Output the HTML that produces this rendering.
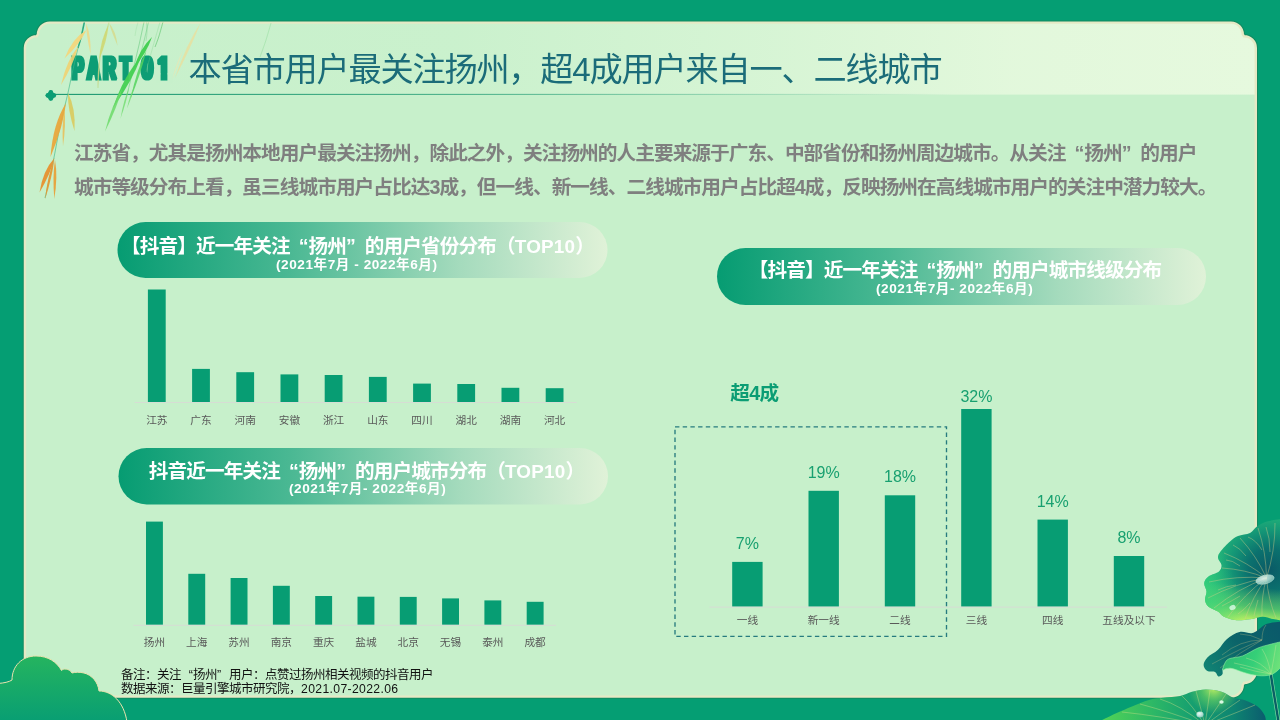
<!DOCTYPE html>
<html lang="zh-CN">
<head>
<meta charset="utf-8">
<title>本省市用户最关注扬州，超4成用户来自一、二线城市</title>
<style>
html,body{margin:0;padding:0;}
body{width:1280px;height:720px;overflow:hidden;position:relative;background:#059e73;
  font-family:"Liberation Sans","Noto Sans CJK SC",sans-serif;}
#art{position:absolute;left:0;top:0;}
.t{position:absolute;white-space:nowrap;line-height:1;margin:0;}
.q{display:inline-block;width:1em;letter-spacing:0;}
.pt .q{width:18.75px}.body .q{width:18.72px}.note .q{width:12px}
.ql{text-align:right;}
.qr{text-align:left;}
#title{left:188.5px;top:52.5px;font-size:33.2px;letter-spacing:-1.2px;color:#1b6c79;font-weight:400;}
.body{left:74px;font-size:19.7px;letter-spacing:-.98px;font-weight:700;color:#7f7f7f;}
.pt{font-size:19.6px;letter-spacing:-.85px;font-weight:700;color:#fff;}
.pt b{letter-spacing:.2px;font-size:18.9px;}
.ps{font-size:13.6px;letter-spacing:.55px;font-weight:700;color:#fff;}
.xl{font-size:10.67px;color:#595959;text-align:center;transform:translateX(-50%);}
.dl{font-size:16px;color:#18a070;text-align:center;transform:translateX(-50%);}
#over4{left:730.3px;top:384.3px;font-size:19.6px;letter-spacing:-.6px;font-weight:700;color:#0b9d74;}
.note{left:121px;font-size:12.5px;letter-spacing:-.5px;color:#111;}
.note i{font-style:normal;letter-spacing:.35px;font-size:12.2px}
</style>
</head>
<body>
<svg id="art" width="1280" height="720" viewBox="0 0 1280 720">
<defs>
  <linearGradient id="hdr" x1="0" x2="1" y1="0" y2="0">
    <stop offset="0" stop-color="#e6f9de" stop-opacity="0"/>
    <stop offset=".35" stop-color="#e6f9de" stop-opacity=".1"/>
    <stop offset=".6" stop-color="#e6f9de" stop-opacity=".5"/>
    <stop offset=".8" stop-color="#e6f9de" stop-opacity=".88"/>
    <stop offset="1" stop-color="#e6f9de" stop-opacity="1"/>
  </linearGradient>
  <linearGradient id="hline" x1="0" x2="1" y1="0" y2="0">
    <stop offset="0" stop-color="#1f9a73" stop-opacity="1"/>
    <stop offset=".45" stop-color="#1f9a73" stop-opacity=".7"/>
    <stop offset="1" stop-color="#1f9a73" stop-opacity="0"/>
  </linearGradient>
  <linearGradient id="pill" x1="0" x2="1" y1="0" y2="0">
    <stop offset="0" stop-color="#069c72"/>
    <stop offset=".35" stop-color="#4ab893"/>
    <stop offset=".7" stop-color="#a5dbbd"/>
    <stop offset="1" stop-color="#e0f2d8"/>
  </linearGradient>
  <linearGradient id="cloud" x1="0" x2="0" y1="0" y2="1">
    <stop offset="0" stop-color="#25b45f"/>
    <stop offset="1" stop-color="#089e73"/>
  </linearGradient>
<!--ARTDEFS-->
  <radialGradient id="lg_big" gradientUnits="userSpaceOnUse" cx="1270" cy="570" r="68">
    <stop offset="0" stop-color="#0a5a66"/><stop offset=".32" stop-color="#0b716e"/><stop offset=".58" stop-color="#149676"/><stop offset=".82" stop-color="#22b479"/><stop offset="1" stop-color="#2cc57b"/>
  </radialGradient>
  <linearGradient id="lg_big2" gradientUnits="userSpaceOnUse" x1="1240" y1="585" x2="1236" y2="621">
    <stop offset="0" stop-color="#b8f25c" stop-opacity="0"/><stop offset=".55" stop-color="#8fe860" stop-opacity=".45"/><stop offset="1" stop-color="#d4f760" stop-opacity="1"/>
  </linearGradient>
  <linearGradient id="lg_big3" gradientUnits="userSpaceOnUse" x1="1204" y1="590" x2="1235" y2="580">
    <stop offset="0" stop-color="#35d17c" stop-opacity=".7"/><stop offset="1" stop-color="#35d17c" stop-opacity="0"/>
  </linearGradient>
  <radialGradient id="drop" cx=".4" cy=".35" r=".7">
    <stop offset="0" stop-color="#f4fffb"/><stop offset=".55" stop-color="#bfe6dc"/><stop offset="1" stop-color="#7fc4b8"/>
  </radialGradient>
  <linearGradient id="lg_midb" gradientUnits="userSpaceOnUse" x1="1205" y1="670" x2="1275" y2="625">
    <stop offset="0" stop-color="#118474"/><stop offset=".5" stop-color="#0b6469"/><stop offset="1" stop-color="#0a5a6a"/>
  </linearGradient>
  <linearGradient id="lg_midf" gradientUnits="userSpaceOnUse" x1="1228" y1="655" x2="1278" y2="672">
    <stop offset="0" stop-color="#2fbf74"/><stop offset=".5" stop-color="#35cf78"/><stop offset="1" stop-color="#6fe27a"/>
  </linearGradient>
  <linearGradient id="lg_bot" gradientUnits="userSpaceOnUse" x1="1105" y1="715" x2="1265" y2="712">
    <stop offset="0" stop-color="#4fd157"/><stop offset=".3" stop-color="#2db866"/><stop offset=".55" stop-color="#169f70"/><stop offset=".8" stop-color="#0e8571"/><stop offset="1" stop-color="#0b5d6e"/>
  </linearGradient>
  <radialGradient id="lg_bot2" gradientUnits="userSpaceOnUse" cx="1214" cy="688" r="26">
    <stop offset="0" stop-color="#c9f462" stop-opacity=".95"/><stop offset=".5" stop-color="#7fe25e" stop-opacity=".5"/><stop offset="1" stop-color="#7fe25e" stop-opacity="0"/>
  </radialGradient>
<!--/ARTDEFS-->
  <filter id="fat" x="-5%" y="-20%" width="110%" height="140%"><feMorphology operator="dilate" radius="1 0"/></filter>
  <clipPath id="panelclip"><path d="M24.95,48 A11.8,11.8 0 0 1 36.75,36.2 L37.95,34.4 A11.8,11.8 0 0 1 49.75,22.6 L1231,22.6 A11.8,11.8 0 0 1 1242.8,34.4 L1244,36.2 A11.8,11.8 0 0 1 1255.8,48 L1255.8,671.2 A11.8,11.8 0 0 1 1244,683 L1242.8,684.8 A11.8,11.8 0 0 1 1231,696.6 L49.75,696.6 A11.8,11.8 0 0 1 37.95,684.8 L36.75,683 A11.8,11.8 0 0 1 24.95,671.2 Z"/></clipPath>
</defs>
<!-- panel -->
<path d="M24.95,48 A11.8,11.8 0 0 1 36.75,36.2 L37.95,34.4 A11.8,11.8 0 0 1 49.75,22.6 L1231,22.6 A11.8,11.8 0 0 1 1242.8,34.4 L1244,36.2 A11.8,11.8 0 0 1 1255.8,48 L1255.8,671.2 A11.8,11.8 0 0 1 1244,683 L1242.8,684.8 A11.8,11.8 0 0 1 1231,696.6 L49.75,696.6 A11.8,11.8 0 0 1 37.95,684.8 L36.75,683 A11.8,11.8 0 0 1 24.95,671.2 Z" fill="none" stroke="#1d7a52" stroke-opacity=".55" stroke-width="4.4"/>
<path d="M24.95,48 A11.8,11.8 0 0 1 36.75,36.2 L37.95,34.4 A11.8,11.8 0 0 1 49.75,22.6 L1231,22.6 A11.8,11.8 0 0 1 1242.8,34.4 L1244,36.2 A11.8,11.8 0 0 1 1255.8,48 L1255.8,671.2 A11.8,11.8 0 0 1 1244,683 L1242.8,684.8 A11.8,11.8 0 0 1 1231,696.6 L49.75,696.6 A11.8,11.8 0 0 1 37.95,684.8 L36.75,683 A11.8,11.8 0 0 1 24.95,671.2 Z" fill="#c7f0cb"/>
<g clip-path="url(#panelclip)">
  <rect x="24" y="21" width="1234" height="73.6" fill="url(#hdr)"/>
</g>
<path d="M24.95,48 A11.8,11.8 0 0 1 36.75,36.2 L37.95,34.4 A11.8,11.8 0 0 1 49.75,22.6 L1231,22.6 A11.8,11.8 0 0 1 1242.8,34.4 L1244,36.2 A11.8,11.8 0 0 1 1255.8,48 L1255.8,671.2 A11.8,11.8 0 0 1 1244,683 L1242.8,684.8 A11.8,11.8 0 0 1 1231,696.6 L49.75,696.6 A11.8,11.8 0 0 1 37.95,684.8 L36.75,683 A11.8,11.8 0 0 1 24.95,671.2 Z" fill="none" stroke="#e5e9c5" stroke-width="2.4"/>
<rect x="52" y="93.85" width="900" height="1.15" fill="url(#hline)"/>
<g fill="#0b9d74"><circle cx="50.8" cy="92.4" r="2.4"/><circle cx="50.8" cy="98.4" r="2.4"/><circle cx="47.9" cy="95.4" r="2.4"/><circle cx="53.7" cy="95.4" r="2.4"/><path d="M50.8,90 L56.2,95.4 L50.8,100.8 L45.4,95.4Z"/></g>
<!--PART--><g id="part" filter="url(#fat)" font-family="Liberation Sans, sans-serif" font-weight="700" font-size="32.1" fill="#0b9d74" stroke="#0b9d74" stroke-width="3.0" stroke-linejoin="miter" stroke-miterlimit="2">
<text transform="translate(0,79.2) scale(0.55,1)" x="131.01 158.72 187.56 218.73">PART</text>
<text transform="translate(0,79.2) scale(0.645,1)" x="219.55 244.51">01</text>
</g><path d="M155.5,73.6H160.6V83H155.5Z M167.4,73.6H173V83H167.4Z" fill="#c7f0cb"/><!--/PART-->
<!-- pills -->
<rect x="117.5" y="222" width="490" height="56" rx="28" fill="url(#pill)"/>
<rect x="118.5" y="448" width="489.5" height="56.5" rx="28.2" fill="url(#pill)"/>
<rect x="717" y="248" width="489" height="57" rx="28.5" fill="url(#pill)"/>
<!-- chart1 -->
<g fill="#079d73">
<rect x="147.9" y="289.5" width="17.8" height="112.5"/>
<rect x="192.1" y="368.9" width="17.8" height="33.1"/>
<rect x="236.3" y="372.2" width="17.8" height="29.8"/>
<rect x="280.5" y="374.4" width="17.8" height="27.6"/>
<rect x="324.7" y="375" width="17.8" height="27"/>
<rect x="368.9" y="376.9" width="17.8" height="25.1"/>
<rect x="413.1" y="383.6" width="17.8" height="18.4"/>
<rect x="457.3" y="384" width="17.8" height="18"/>
<rect x="501.5" y="387.8" width="17.8" height="14.2"/>
<rect x="545.7" y="388.2" width="17.8" height="13.8"/>
</g>
<rect x="134.7" y="402" width="442" height="1" fill="#d6ddd4"/>
<!-- chart2 -->
<g fill="#079d73">
<rect x="146" y="521.6" width="16.9" height="103.2"/>
<rect x="188.3" y="573.8" width="16.9" height="51"/>
<rect x="230.6" y="578" width="16.9" height="46.8"/>
<rect x="272.9" y="585.8" width="16.9" height="39"/>
<rect x="315.2" y="596" width="16.9" height="28.8"/>
<rect x="357.5" y="596.7" width="16.9" height="28.1"/>
<rect x="399.8" y="596.9" width="16.9" height="27.9"/>
<rect x="442.1" y="598.4" width="16.9" height="26.4"/>
<rect x="484.4" y="600.4" width="16.9" height="24.4"/>
<rect x="526.7" y="601.8" width="16.9" height="23"/>
</g>
<rect x="133.3" y="624.8" width="422.7" height="1" fill="#d6ddd4"/>
<!-- chart3 -->
<g fill="#079d73">
<rect x="732.2" y="561.9" width="30.4" height="44.8"/>
<rect x="808.5" y="490.8" width="30.4" height="115.9"/>
<rect x="884.8" y="495.3" width="30.4" height="111.4"/>
<rect x="961.2" y="409" width="30.4" height="197.7"/>
<rect x="1037.5" y="519.6" width="30.4" height="87.1"/>
<rect x="1113.8" y="556" width="30.4" height="50.7"/>
</g>
<rect x="709.4" y="606.6" width="457.6" height="1" fill="#d6ddd4"/>
<rect x="675" y="426.8" width="271.5" height="209.6" fill="none" stroke="#277b7f" stroke-width="1.35" stroke-dasharray="4.4 3.3"/>
<!--ARTBODY--><g id="lotus"><path d="M1282.0,519.0 C1279.5,519.4 1271.2,520.2 1267.0,521.5 C1262.8,522.8 1259.8,524.6 1257.0,526.5 C1254.2,528.4 1253.2,531.4 1250.0,533.0 C1246.8,534.6 1241.3,534.6 1238.0,536.0 C1234.7,537.4 1232.9,538.9 1230.0,541.5 C1227.1,544.1 1222.5,548.8 1220.5,551.5 C1218.5,554.2 1217.8,555.8 1218.0,558.0 C1218.2,560.2 1221.3,562.8 1221.5,565.0 C1221.7,567.2 1221.2,569.6 1219.0,571.5 C1216.8,573.4 1211.0,574.6 1208.5,576.5 C1206.0,578.4 1204.5,580.5 1204.2,583.0 C1203.9,585.5 1206.4,588.7 1206.5,591.5 C1206.6,594.3 1204.7,597.5 1205.0,600.0 C1205.3,602.5 1206.3,604.8 1208.5,606.7 C1210.7,608.6 1215.5,609.9 1218.0,611.5 C1220.5,613.1 1220.7,615.1 1223.5,616.5 C1226.3,617.9 1230.6,619.5 1235.0,620.0 C1239.4,620.5 1245.3,619.8 1250.0,619.2 C1254.7,618.7 1259.2,616.7 1263.0,616.7 C1266.8,616.7 1269.8,618.4 1273.0,619.0 C1276.2,619.6 1280.5,620.2 1282.0,620.5 L1282,519Z" fill="url(#lg_big)"/>
<path d="M1282.0,519.0 C1279.5,519.4 1271.2,520.2 1267.0,521.5 C1262.8,522.8 1259.8,524.6 1257.0,526.5 C1254.2,528.4 1253.2,531.4 1250.0,533.0 C1246.8,534.6 1241.3,534.6 1238.0,536.0 C1234.7,537.4 1232.9,538.9 1230.0,541.5 C1227.1,544.1 1222.5,548.8 1220.5,551.5 C1218.5,554.2 1217.8,555.8 1218.0,558.0 C1218.2,560.2 1221.3,562.8 1221.5,565.0 C1221.7,567.2 1221.2,569.6 1219.0,571.5 C1216.8,573.4 1211.0,574.6 1208.5,576.5 C1206.0,578.4 1204.5,580.5 1204.2,583.0 C1203.9,585.5 1206.4,588.7 1206.5,591.5 C1206.6,594.3 1204.7,597.5 1205.0,600.0 C1205.3,602.5 1206.3,604.8 1208.5,606.7 C1210.7,608.6 1215.5,609.9 1218.0,611.5 C1220.5,613.1 1220.7,615.1 1223.5,616.5 C1226.3,617.9 1230.6,619.5 1235.0,620.0 C1239.4,620.5 1245.3,619.8 1250.0,619.2 C1254.7,618.7 1259.2,616.7 1263.0,616.7 C1266.8,616.7 1269.8,618.4 1273.0,619.0 C1276.2,619.6 1280.5,620.2 1282.0,620.5 L1282,519Z" fill="url(#lg_big2)"/>
<path d="M1282.0,519.0 C1279.5,519.4 1271.2,520.2 1267.0,521.5 C1262.8,522.8 1259.8,524.6 1257.0,526.5 C1254.2,528.4 1253.2,531.4 1250.0,533.0 C1246.8,534.6 1241.3,534.6 1238.0,536.0 C1234.7,537.4 1232.9,538.9 1230.0,541.5 C1227.1,544.1 1222.5,548.8 1220.5,551.5 C1218.5,554.2 1217.8,555.8 1218.0,558.0 C1218.2,560.2 1221.3,562.8 1221.5,565.0 C1221.7,567.2 1221.2,569.6 1219.0,571.5 C1216.8,573.4 1211.0,574.6 1208.5,576.5 C1206.0,578.4 1204.5,580.5 1204.2,583.0 C1203.9,585.5 1206.4,588.7 1206.5,591.5 C1206.6,594.3 1204.7,597.5 1205.0,600.0 C1205.3,602.5 1206.3,604.8 1208.5,606.7 C1210.7,608.6 1215.5,609.9 1218.0,611.5 C1220.5,613.1 1220.7,615.1 1223.5,616.5 C1226.3,617.9 1230.6,619.5 1235.0,620.0 C1239.4,620.5 1245.3,619.8 1250.0,619.2 C1254.7,618.7 1259.2,616.7 1263.0,616.7 C1266.8,616.7 1269.8,618.4 1273.0,619.0 C1276.2,619.6 1280.5,620.2 1282.0,620.5 L1282,519Z" fill="url(#lg_big3)"/>
<path d="M1266.5,578 Q1266.2,552.3 1258,528 M1266.5,578 Q1256.5,555.9 1240,538 M1266.5,578 Q1247.2,562.1 1224,553 M1266.5,578 Q1245.0,569.4 1222,568 M1266.5,578 Q1237.4,575.4 1209,582 M1266.5,578 Q1235.7,583.3 1208,598 M1266.5,578 Q1237.8,588.8 1214,608 M1266.5,578 Q1244.1,594.4 1228,617 M1266.5,578 Q1252.5,596.8 1245,619 M1266.5,578 Q1261.2,596.6 1262,616 M1266.5,578 Q1268.0,598.8 1276,618 M1266.5,578 Q1275.2,551.2 1275,523 M1246,556 Q1240,548 1233,545 M1240,566 Q1232,560 1226,560 M1236,585 Q1226,586 1218,590 M1240,596 Q1230,602 1222,606 M1250,603 Q1244,610 1238,614 M1258,600 Q1255,610 1254,616 M1262,550 Q1256,540 1248,537 M1270,552 Q1270,538 1266,527" fill="none" stroke="#d8cf86" stroke-width=".55" opacity=".75"/>
<ellipse cx="1265" cy="579.5" rx="9.3" ry="4.3" transform="rotate(-14 1265 579.5)" fill="url(#drop)" stroke="#e8fff4" stroke-width=".5" opacity=".8"/>
<ellipse cx="1232.5" cy="607.5" rx="3.2" ry="2.5" transform="rotate(-20 1232.5 607.5)" fill="#dcfbe8" opacity=".8"/>
<path d="M1270.5,672 C1273,690 1276,705 1278.5,722" fill="none" stroke="#7fe0a0" stroke-width="3.6"/>
<path d="M1270.5,672 C1273,690 1276,705 1278.5,722" fill="none" stroke="#0a5f66" stroke-width="2.4"/>
<path d="M1282.0,621.5 C1279.5,621.9 1271.0,622.4 1267.0,623.8 C1263.0,625.2 1260.6,628.4 1258.0,630.0 C1255.4,631.6 1254.6,632.9 1251.5,633.2 C1248.4,633.5 1243.6,631.0 1239.5,632.0 C1235.4,633.0 1230.6,636.0 1227.0,639.0 C1223.4,642.0 1221.3,646.7 1218.0,649.8 C1214.7,652.9 1209.8,654.9 1207.4,657.4 C1205.0,659.9 1203.6,662.7 1203.6,665.0 C1203.6,667.3 1205.5,669.8 1207.4,671.0 C1209.3,672.2 1213.2,671.1 1215.0,672.0 C1216.8,672.9 1217.2,676.2 1218.5,676.5 C1219.8,676.8 1221.8,675.4 1222.5,674.0 C1223.2,672.6 1221.8,670.0 1223.0,668.0 C1224.2,666.0 1226.3,663.8 1230.0,662.0 C1233.7,660.2 1239.7,659.0 1245.0,657.0 C1250.3,655.0 1255.8,652.0 1262.0,650.0 C1268.2,648.0 1278.7,645.8 1282.0,645.0 Z" fill="url(#lg_midb)"/>
<path d="M1262,640 Q1240,640 1222,655 M1262,640 Q1245,646 1212,664 M1262,640 Q1250,634 1240,634 M1262,640 Q1262,630 1266,625 M1262,640 Q1240,652 1220,668" fill="none" stroke="#cfc987" stroke-width=".5" opacity=".6"/>
<path d="M1282.0,641.5 C1280.0,642.0 1274.0,643.3 1270.0,644.4 C1266.0,645.5 1262.6,646.1 1258.0,648.0 C1253.4,649.9 1247.3,654.1 1242.6,655.9 C1237.9,657.6 1232.8,657.5 1230.0,658.5 C1227.2,659.5 1226.7,660.1 1225.5,662.0 C1224.3,663.9 1222.5,668.7 1222.7,669.8 C1222.9,670.9 1224.9,668.8 1226.5,668.6 C1228.1,668.4 1229.4,667.9 1232.5,668.6 C1235.6,669.3 1240.8,671.6 1245.0,672.8 C1249.2,674.0 1253.8,675.2 1258.0,675.6 C1262.2,676.0 1266.8,675.8 1270.0,675.0 C1273.2,674.2 1275.0,672.5 1277.0,671.0 C1279.0,669.5 1281.2,666.8 1282.0,666.0 Z" fill="url(#lg_midf)" stroke="#8ff0a0" stroke-width=".6"/>
<path d="M1271,674 Q1262,662 1246,658 M1271,674 Q1258,668 1234,663 M1271,674 Q1268,658 1262,649 M1271,674 Q1274,658 1276,645 M1271,674 Q1256,672 1240,667" fill="none" stroke="#d8e89a" stroke-width=".5" opacity=".7"/>
<path d="M1098.0,722.0 C1101.1,720.5 1111.0,715.6 1116.7,713.0 C1122.4,710.4 1126.6,708.6 1132.0,706.4 C1137.4,704.2 1143.8,701.4 1149.0,700.0 C1154.2,698.6 1157.8,698.5 1163.0,697.8 C1168.2,697.1 1175.2,697.0 1180.0,696.0 C1184.8,695.0 1187.7,692.9 1192.0,691.8 C1196.3,690.7 1201.1,689.5 1206.0,689.5 C1210.9,689.5 1216.9,690.4 1221.5,691.8 C1226.1,693.2 1229.5,696.4 1233.5,697.8 C1237.5,699.2 1241.6,699.0 1245.6,700.4 C1249.6,701.8 1254.4,704.0 1257.6,706.4 C1260.8,708.8 1263.1,712.4 1264.5,715.0 C1265.9,717.6 1265.8,720.8 1266.0,722.0 Z" fill="url(#lg_bot)"/>
<path d="M1098.0,722.0 C1101.1,720.5 1111.0,715.6 1116.7,713.0 C1122.4,710.4 1126.6,708.6 1132.0,706.4 C1137.4,704.2 1143.8,701.4 1149.0,700.0 C1154.2,698.6 1157.8,698.5 1163.0,697.8 C1168.2,697.1 1175.2,697.0 1180.0,696.0 C1184.8,695.0 1187.7,692.9 1192.0,691.8 C1196.3,690.7 1201.1,689.5 1206.0,689.5 C1210.9,689.5 1216.9,690.4 1221.5,691.8 C1226.1,693.2 1229.5,696.4 1233.5,697.8 C1237.5,699.2 1241.6,699.0 1245.6,700.4 C1249.6,701.8 1254.4,704.0 1257.6,706.4 C1260.8,708.8 1263.1,712.4 1264.5,715.0 C1265.9,717.6 1265.8,720.8 1266.0,722.0 Z" fill="url(#lg_bot2)"/>
<path d="M1205,725 Q1180,705 1160,699 M1205,725 Q1192,705 1182,696 M1205,725 Q1200,705 1196,691 M1205,725 Q1208,705 1210,690 M1205,725 Q1218,706 1226,694 M1205,725 Q1228,708 1240,700 M1205,725 Q1238,712 1255,705 M1205,725 Q1170,712 1140,704 M1205,725 Q1160,716 1122,712" fill="none" stroke="#d9e08a" stroke-width=".55" opacity=".7"/>
<ellipse cx="1221.5" cy="702" rx="2.2" ry="1.8" fill="#e9fff0" opacity=".9"/>
<ellipse cx="1200" cy="714.5" rx="3.6" ry="3" fill="url(#drop)" opacity=".95"/></g><!--/ARTBODY-->
<!-- cloud -->
<path d="M-2,683.5 C4,683 9,682 12,680 C12,666 22,656 36,656 C48,656 57,662 61.5,670.5 C63,668.5 69,668 72,673 C75,672 80,672 84,673 C92,675 98,682 99,691 C112,691 124,702 127,722 L-2,722 Z" fill="url(#cloud)" stroke="#e9e2ae" stroke-width="1"/>
</svg>

<div class="t" id="title">本省市用户最关注扬州，超4成用户来自一、二线城市</div>
<div class="t body" style="top:144.3px">江苏省，尤其是扬州本地用户最关注扬州，除此之外，关注扬州的人主要来源于广东、中部省份和扬州周边城市。从关注<span class="q ql">“</span>扬州<span class="q qr">”</span>的用户</div>
<div class="t body" style="top:177.5px">城市等级分布上看，虽三线城市用户占比达3成，但一线、新一线、二线城市用户占比超4成，反映扬州在高线城市用户的关注中潜力较大。</div>

<div class="t pt" style="left:121.1px;top:236.6px">【抖音】近一年关注<span class="q ql">“</span>扬州<span class="q qr">”</span>的用户省份分布（<b>TOP10</b>）</div>
<div class="t ps" style="left:276px;top:258px">(2021年7月 - 2022年6月)</div>
<div class="t pt" style="left:148.8px;top:461.6px">抖音近一年关注<span class="q ql">“</span>扬州<span class="q qr">”</span>的用户城市分布（<b>TOP10</b>）</div>
<div class="t ps" style="left:289px;top:482px">(2021年7月- 2022年6月)</div>
<div class="t pt" style="left:748.8px;top:260.5px">【抖音】近一年关注<span class="q ql">“</span>扬州<span class="q qr">”</span>的用户城市线级分布</div>
<div class="t ps" style="left:876px;top:282px">(2021年7月- 2022年6月)</div>

<div class="t xl" style="left:156.8px;top:415px">江苏</div>
<div class="t xl" style="left:201px;top:415px">广东</div>
<div class="t xl" style="left:245.2px;top:415px">河南</div>
<div class="t xl" style="left:289.4px;top:415px">安徽</div>
<div class="t xl" style="left:333.6px;top:415px">浙江</div>
<div class="t xl" style="left:377.8px;top:415px">山东</div>
<div class="t xl" style="left:422px;top:415px">四川</div>
<div class="t xl" style="left:466.2px;top:415px">湖北</div>
<div class="t xl" style="left:510.4px;top:415px">湖南</div>
<div class="t xl" style="left:554.6px;top:415px">河北</div>

<div class="t xl" style="left:154.4px;top:637px">扬州</div>
<div class="t xl" style="left:196.7px;top:637px">上海</div>
<div class="t xl" style="left:239px;top:637px">苏州</div>
<div class="t xl" style="left:281.3px;top:637px">南京</div>
<div class="t xl" style="left:323.6px;top:637px">重庆</div>
<div class="t xl" style="left:365.9px;top:637px">盐城</div>
<div class="t xl" style="left:408.2px;top:637px">北京</div>
<div class="t xl" style="left:450.5px;top:637px">无锡</div>
<div class="t xl" style="left:492.8px;top:637px">泰州</div>
<div class="t xl" style="left:535.1px;top:637px">成都</div>

<div class="t" id="over4">超4成</div>
<div class="t dl" style="left:747.4px;top:535.5px">7%</div>
<div class="t dl" style="left:823.7px;top:464.5px">19%</div>
<div class="t dl" style="left:900px;top:468.5px">18%</div>
<div class="t dl" style="left:976.4px;top:388.5px">32%</div>
<div class="t dl" style="left:1052.7px;top:493.5px">14%</div>
<div class="t dl" style="left:1129px;top:529.5px">8%</div>
<div class="t xl" style="left:747.4px;top:615px">一线</div>
<div class="t xl" style="left:823.7px;top:615px">新一线</div>
<div class="t xl" style="left:900px;top:615px">二线</div>
<div class="t xl" style="left:976.4px;top:615px">三线</div>
<div class="t xl" style="left:1052.7px;top:615px">四线</div>
<div class="t xl" style="left:1129px;top:615px">五线及以下</div>

<div class="t note" style="top:669.2px">备注：关注<span class="q ql">“</span>扬州<span class="q qr">”</span>用户：点赞过扬州相关视频的抖音用户</div>
<div class="t note" style="top:683.2px">数据来源：巨量引擎城市研究院，<i>2021.07-2022.06</i></div>
<svg id="art2" width="1280" height="720" viewBox="0 0 1280 720" style="position:absolute;left:0;top:0;pointer-events:none">
<!--ARTTOP--><g id="willow" clip-path="url(#panelclip)"><path d="M84.0,22.0 C83.4,24.7 81.7,33.0 80.5,38.0 C79.3,43.0 78.4,46.0 77.0,52.0 C75.6,58.0 73.6,66.8 72.0,74.0 C70.4,81.2 69.5,86.3 67.5,95.0 C65.5,103.7 62.3,115.2 60.0,126.0 C57.7,136.8 55.5,150.2 53.5,160.0 C51.5,169.8 49.4,178.7 48.0,185.0 C46.6,191.3 45.5,195.8 45.0,198.0" fill="none" stroke="#3fb887" stroke-width=".8" opacity=".8"/>
<path d="M84.5,22.0 C83.9,24.7 82.1,33.7 81.0,38.0 C79.9,42.3 78.5,46.3 78.0,48.0" fill="none" stroke="#2aa981" stroke-width="1.3"/>
<path d="M109.0,22.0 C108.2,25.0 105.5,34.0 104.0,40.0 C102.5,46.0 101.0,50.0 100.0,58.0 C99.0,66.0 98.3,83.0 98.0,88.0" fill="none" stroke="#b9d47a" stroke-width=".7" opacity=".8"/>
<path d="M86.5,30.0 Q72.3,38.1 64.5,58.5 Q79.9,44.0 86.5,30.0Z" fill="#f3d67c" opacity="0.95"/>
<path d="M86.0,23.0 Q86.5,36.2 90.5,54.0 Q91.3,35.5 86.0,23.0Z" fill="#ecd98a" opacity="0.9"/>
<path d="M78.5,46.0 Q66.6,60.3 61.0,85.0 Q73.9,63.6 78.5,46.0Z" fill="#efd272" opacity="0.9"/>
<path d="M109.0,23.0 Q111.9,32.7 117.5,45.5 Q116.0,31.1 109.0,23.0Z" fill="#d6da8c" opacity="0.85"/>
<path d="M108.5,25.0 Q100.7,38.7 99.0,60.0 Q107.3,40.5 108.5,25.0Z" fill="#cfd873" opacity="0.9"/>
<path d="M99.5,58.0 Q97.3,70.5 97.5,88.0 Q100.1,70.7 99.5,58.0Z" fill="#d6d98a" opacity="0.7"/>
<path d="M68.0,93.0 Q67.6,109.5 74.5,131.0 Q75.9,108.1 68.0,93.0Z" fill="#d9cb62" opacity="0.95"/>
<path d="M66.0,103.0 Q52.9,123.8 50.5,157.0 Q63.2,126.8 66.0,103.0Z" fill="#e9a63c" opacity="0.95"/>
<path d="M64.5,109.0 Q61.7,124.5 63.0,146.0 Q66.1,124.6 64.5,109.0Z" fill="#e9bd55" opacity="0.85"/>
<path d="M54.5,158.0 Q43.0,170.2 39.5,192.5 Q50.7,173.6 54.5,158.0Z" fill="#e7902e" opacity="0.95"/>
<path d="M54.2,160.0 Q47.5,175.9 45.0,199.5 Q52.2,177.0 54.2,160.0Z" fill="#e8962f" opacity="0.9"/>
<path d="M55.0,160.0 Q52.4,176.3 54.3,199.0 Q58.0,176.4 55.0,160.0Z" fill="#e99c33" opacity="0.9"/>
<path d="M144.0,22.0 C143.2,25.8 140.8,37.0 139.0,45.0 C137.2,53.0 135.0,61.7 133.0,70.0 C131.0,78.3 128.0,90.8 127.0,95.0" fill="none" stroke="#52c26e" stroke-width="0.6" opacity="0.8"/>
<path d="M148.5,22.0 C147.6,25.8 144.8,38.3 143.0,45.0 C141.2,51.7 138.8,59.2 138.0,62.0" fill="none" stroke="#52c26e" stroke-width="0.6" opacity="0.7"/>
<path d="M163.0,22.0 C162.3,24.3 160.3,31.8 159.0,36.0 C157.7,40.2 155.7,45.2 155.0,47.0" fill="none" stroke="#4fbf5f" stroke-width="0.7" opacity="0.8"/>
<path d="M146.5,22.0 C146.6,23.7 147.1,28.8 147.0,32.0 C146.9,35.2 146.2,39.5 146.0,41.0" fill="none" stroke="#6fcf80" stroke-width="0.5" opacity="0.7"/>
<path d="M138.0,22.0 C137.7,23.3 136.5,27.7 136.0,30.0 C135.5,32.3 135.2,35.0 135.0,36.0" fill="none" stroke="#8fd99a" stroke-width="0.5" opacity="0.6"/>
<path d="M271.0,23.0 C270.2,25.8 267.8,34.3 266.0,40.0 C264.2,45.7 261.0,54.2 260.0,57.0" fill="none" stroke="#86d892" stroke-width="0.6" opacity="0.7"/>
<path d="M160.0,22.0 C158.7,26.7 154.3,41.7 152.0,50.0 C149.7,58.3 147.0,68.3 146.0,72.0" fill="none" stroke="#7ad486" stroke-width="0.5" opacity="0.6"/>
<path d="M152.0,37.0 Q140.1,48.0 133.5,69.0 Q147.0,52.0 152.0,37.0Z" fill="#3fce4e" opacity="0.95"/>
<path d="M141.0,57.0 Q123.8,75.4 113.0,108.0 Q132.6,80.2 141.0,57.0Z" fill="#44d052" opacity="0.95"/>
<path d="M146.5,50.0 Q136.7,69.6 130.5,99.0 Q141.7,71.2 146.5,50.0Z" fill="#54d45e" opacity="0.85"/>
<path d="M122.5,88.0 Q111.6,104.9 105.0,131.5 Q117.2,107.1 122.5,88.0Z" fill="#6bdb68" opacity="0.85"/>
<path d="M129.0,88.0 Q123.6,100.3 120.5,118.5 Q126.7,101.2 129.0,88.0Z" fill="#6bdb68" opacity="0.75"/>
<path d="M134.5,86.0 Q129.7,94.9 127.0,108.5 Q132.4,95.8 134.5,86.0Z" fill="#6bdb68" opacity="0.7"/>
<path d="M200.5,23.0 Q186.2,44.4 175.0,78.0 Q191.2,46.8 200.5,23.0Z" fill="#eadf9c" opacity="0.8"/>
<path d="M183.0,50.0 Q176.5,61.9 172.0,80.0 Q179.1,62.9 183.0,50.0Z" fill="#efe6b0" opacity="0.6"/></g><!--/ARTTOP-->
</svg>
</body>
</html>
